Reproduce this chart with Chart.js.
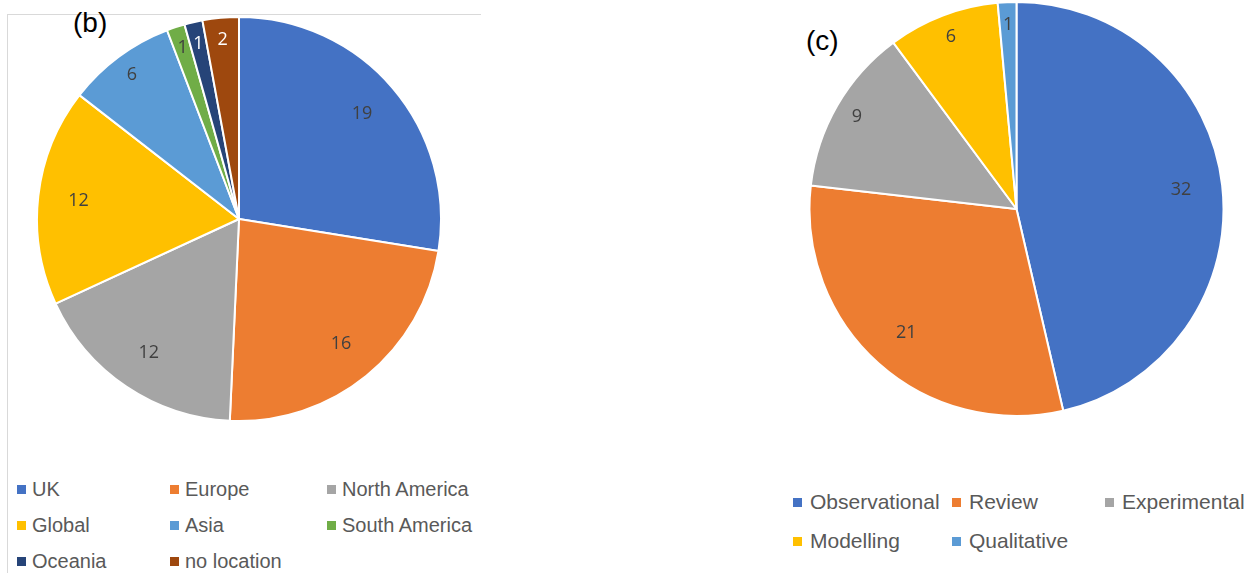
<!DOCTYPE html>
<html>
<head>
<meta charset="utf-8">
<script src="https://cdn.jsdelivr.net/npm/chart.js@4"></script>
<style>
  body { margin: 0; width: 1247px; height: 573px; background: #fff; position: relative; overflow: hidden; font-family: "Liberation Sans", Arial, sans-serif; }
  .frame { position: absolute; left: 7px; top: 14px; width: 473px; height: 570px; border-top: 1px solid #d9d9d9; border-left: 1px solid #d9d9d9; }
  .panel { position: absolute; color: #000; font-size: 28px; }
  .pie { position: absolute; }
  .legend-item { position: absolute; color: #595959; white-space: nowrap; line-height: 22px; }
  .legend-item span.box { position: absolute; width: 9px; height: 9px; top: 7px; }
</style>
</head>
<body>
<div class="frame"></div>
<div class="panel" style="left:73px; top:7px;">(b)</div>
<div class="panel" style="left:806px; top:25px;">(c)</div>
<div class="pie" style="left:35px; top:16px; width:408px; height:406px;"><canvas id="chart-b"></canvas></div>
<div class="pie" style="left:806px; top:1px; width:421px; height:416px;"><canvas id="chart-c"></canvas></div>
<div id="legend-b"></div>
<div id="legend-c"></div>
<script>
// --- Data --- //
const regionLabels = ['UK', 'Europe', 'North America', 'Global', 'Asia', 'South America', 'Oceania', 'no location'];
const regionCounts = [19, 16, 12, 12, 6, 1, 1, 2];

const designLabels = ['Observational', 'Review', 'Experimental', 'Modelling', 'Qualitative'];
const designCounts = [32, 21, 9, 6, 1];

const officeColors = ['#4472C4', '#ED7D31', '#A5A5A5', '#FFC000', '#5B9BD5', '#70AD47', '#264478', '#9E480E'];

// draws each value inside its slice, like Excel data labels
const sliceLabels = {
    id: 'sliceLabels',
    afterDatasetsDraw(chart) {
        const ctx = chart.ctx;
        const meta = chart.getDatasetMeta(0);
        const values = chart.data.datasets[0].data;
        const total = values.reduce((a, b) => a + b, 0);
        ctx.save();
        ctx.font = '18px "Open Sans", "Liberation Sans", sans-serif';
        ctx.textAlign = 'center';
        ctx.textBaseline = 'middle';
        meta.data.forEach((arc, i) => {
            const mid = (arc.startAngle + arc.endAngle) / 2;
            const frac = values[i] / total > 0.15 ? 0.8 : 0.89;
            const r = arc.outerRadius * frac;
            const x = arc.x + Math.cos(mid) * r;
            const y = arc.y + Math.sin(mid) * r;
            const bg = chart.data.datasets[0].backgroundColor[i];
            ctx.fillStyle = (bg === '#264478' || bg === '#9E480E') ? '#ffffff' : '#404040';
            ctx.fillText(String(values[i]), x, y);
        });
        ctx.restore();
    }
};

function makePie(canvasId, labels, values) {
    const ctx = document.getElementById(canvasId).getContext('2d');
    return new Chart(ctx, {
        type: 'pie',
        data: {
            labels: labels,
            datasets: [{
                data: values,
                backgroundColor: officeColors.slice(0, values.length),
                borderColor: '#ffffff',
                borderWidth: 2,
                hoverOffset: 0
            }]
        },
        options: {
            responsive: true,
            maintainAspectRatio: false,
            animation: false,
            layout: { padding: 0 },
            plugins: {
                legend: { display: false },
                tooltip: { enabled: false }
            }
        },
        plugins: [sliceLabels]
    });
}

function makeLegend(containerId, labels, colXs, rowYs, textOffset, fontSize) {
    const box = document.getElementById(containerId);
    labels.forEach((label, i) => {
        const col = i % colXs.length;
        const row = Math.floor(i / colXs.length);
        const item = document.createElement('div');
        item.className = 'legend-item';
        item.style.fontSize = fontSize + 'px';
        item.style.left = colXs[col] + 'px';
        item.style.top = (rowYs[row] - 11) + 'px';
        item.style.paddingLeft = textOffset + 'px';
        const sw = document.createElement('span');
        sw.className = 'box';
        sw.style.left = '0px';
        sw.style.background = officeColors[i];
        item.appendChild(sw);
        item.appendChild(document.createTextNode(label));
        box.appendChild(item);
    });
}

makePie('chart-b', regionLabels, regionCounts);
makePie('chart-c', designLabels, designCounts);
makeLegend('legend-b', regionLabels, [17, 170, 327], [489, 525, 561], 15, 20);
makeLegend('legend-c', designLabels, [793, 952, 1105], [502, 541], 17, 21);
</script>
</body>
</html>
